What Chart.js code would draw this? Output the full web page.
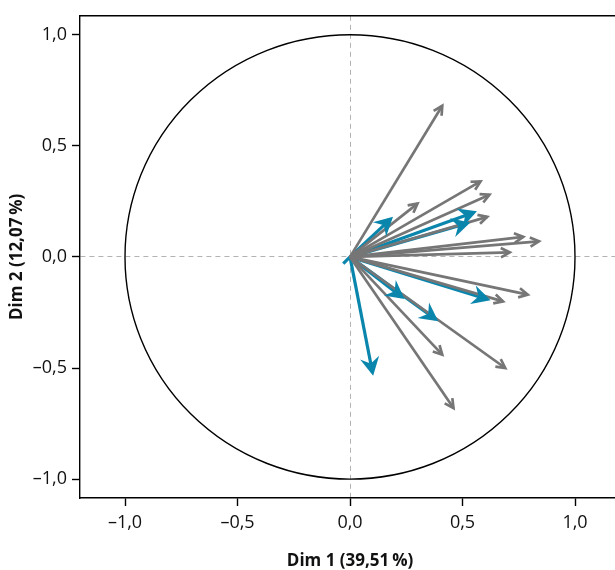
<!DOCTYPE html>
<html>
<head>
<meta charset="utf-8">
<script src="https://cdn.jsdelivr.net/npm/chart.js@4"></script>
<style>
    html, body { margin: 0; padding: 0; overflow: hidden; background: #fff; }
    #wrap { width: 640px; height: 570px; }
</style>
</head>
<body>
<div id="wrap"><canvas id="pcaChart"></canvas></div>
<script>
// Variables grises (coordonnées Dim 1 / Dim 2)
const grayX = [0.41, 0.58, 0.62, 0.30, 0.61, 0.77, 0.84, 0.71, 0.79, 0.68, 0.41, 0.69, 0.46];
const grayY = [0.68, 0.34, 0.28, 0.24, 0.18, 0.09, 0.07, 0.02, -0.17, -0.20, -0.44, -0.50, -0.68];

// Variables bleues
const blueX = [0.18, 0.55, 0.52, 0.61, 0.23, 0.38, 0.10, -0.03];
const blueY = [0.17, 0.20, 0.15, -0.19, -0.18, -0.28, -0.52, -0.03];

// Graduations des axes
const xTicks = [-1, -0.5, 0, 0.5, 1];
const yTicks = [-1, -0.5, 0, 0.5, 1];

const xTitle = 'Dim 1 (39,51\u2009%)';
const yTitle = 'Dim 2 (12,07\u2009%)';

const GRAY = '#767676';
const BLUE = '#0a86ad';

// Un jeu de données par flèche : de l'origine vers la coordonnée
const makeArrows = (xs, ys, color, width, head, filled) => xs.map((x, i) => ({
    data: [{ x: 0, y: 0 }, { x: x, y: ys[i] }],
    showLine: true,
    borderColor: color,
    borderWidth: width,
    pointRadius: 0,
    pointHoverRadius: 0,
    headLen: head,
    headFilled: filled,
}));

const datasets = [
    ...makeArrows(grayX, grayY, GRAY, 2.7, 10, false),
    ...makeArrows(blueX, blueY, BLUE, 3.2, 12, true),
];

const fmt = v => v.toFixed(1).replace('.', ',').replace('-', '\u2013');

// Cercle des corrélations (rayon 1) dessiné via les échelles
const circlePlugin = {
    id: 'circle',
    beforeDatasetsDraw(chart) {
        const { ctx, chartArea, scales: { x, y } } = chart;
        const cx = x.getPixelForValue(0), cy = y.getPixelForValue(0);
        const rx = x.getPixelForValue(1) - cx;
        const ry = cy - y.getPixelForValue(1);
        ctx.save();
        ctx.beginPath();
        ctx.rect(chartArea.left, chartArea.top, chartArea.width, chartArea.height);
        ctx.clip();
        ctx.beginPath();
        ctx.ellipse(cx, cy, rx, ry, 0, 0, Math.PI * 2);
        ctx.lineWidth = 1.4;
        ctx.strokeStyle = '#000';
        ctx.stroke();
        ctx.restore();
    }
};

// Pointes de flèches
const arrowHeadPlugin = {
    id: 'arrowHeads',
    afterDatasetsDraw(chart) {
        const ctx = chart.ctx;
        chart.data.datasets.forEach((ds, i) => {
            const meta = chart.getDatasetMeta(i);
            const p0 = meta.data[0], p1 = meta.data[1];
            const dx = p1.x - p0.x, dy = p1.y - p0.y;
            if (Math.hypot(dx, dy) < 15) return; // trop courte
            const a = Math.atan2(dy, dx);
            const L = ds.headLen, t = Math.PI / 6.5;
            ctx.save();
            ctx.strokeStyle = ds.borderColor;
            ctx.fillStyle = ds.borderColor;
            ctx.lineWidth = ds.borderWidth;
            ctx.lineJoin = 'miter';
            ctx.beginPath();
            ctx.moveTo(p1.x - L * Math.cos(a - t), p1.y - L * Math.sin(a - t));
            ctx.lineTo(p1.x, p1.y);
            ctx.lineTo(p1.x - L * Math.cos(a + t), p1.y - L * Math.sin(a + t));
            if (ds.headFilled) {
                ctx.lineTo(p1.x - 0.6 * L * Math.cos(a), p1.y - 0.6 * L * Math.sin(a));
                ctx.closePath();
                ctx.fill();
            }
            ctx.stroke();
            ctx.restore();
        });
    }
};

const tickFont = { family: '"Open Sans", "Noto Sans", sans-serif', size: 18 };
const titleFont = { family: '"Open Sans", "Noto Sans", sans-serif', size: 17, weight: 'bold' };
const zeroGrid = c => (c.tick && c.tick.value === 0 ? '#b3b3b3' : 'rgba(0,0,0,0)');

new Chart(document.getElementById('pcaChart'), {
    type: 'scatter',
    data: { datasets: datasets },
    plugins: [circlePlugin, arrowHeadPlugin],
    options: {
        responsive: true,
        maintainAspectRatio: false,
        animation: false,
        layout: { padding: { top: 14, right: 20, left: 0, bottom: 0 } },
        plugins: { legend: { display: false }, tooltip: { enabled: false } },
        scales: {
            x: {
                type: 'linear',
                position: 'bottom',
                min: -1.2,
                max: 1.2,
                afterBuildTicks: s => { s.ticks = xTicks.map(v => ({ value: v })); },
                afterFit: s => { s.height = 72; },
                ticks: { callback: fmt, color: '#111', font: tickFont, padding: 6, maxRotation: 0 },
                grid: { color: zeroGrid, lineWidth: 1, tickLength: 8, tickColor: '#000', tickWidth: 1.4 },
                border: { display: true, color: '#000', width: 1.4, dash: [5, 4] },
                title: { display: true, text: xTitle, color: '#111', font: { ...titleFont, lineHeight: 1 }, padding: { top: 0, bottom: 0 } },
            },
            x2: {
                type: 'linear',
                position: 'top',
                min: -1.2,
                max: 1.2,
                afterFit: s => { s.height = 0; },
                ticks: { display: false },
                grid: { display: false },
                border: { display: true, color: '#000', width: 1.4 },
            },
            y: {
                type: 'linear',
                min: -1.085,
                max: 1.085,
                afterBuildTicks: s => { s.ticks = yTicks.map(v => ({ value: v })); },
                afterFit: s => { s.width = 80; },
                ticks: { callback: fmt, color: '#111', font: tickFont, padding: 5 },
                grid: { color: zeroGrid, lineWidth: 1, tickLength: 8, tickColor: '#000', tickWidth: 1.4 },
                border: { display: true, color: '#000', width: 1.4, dash: [5, 4] },
                title: { display: true, text: yTitle, color: '#111', font: { ...titleFont, lineHeight: 1.2 }, padding: { top: 7, bottom: 0 } },
            },
        },
    },
});
</script>
</body>
</html>
